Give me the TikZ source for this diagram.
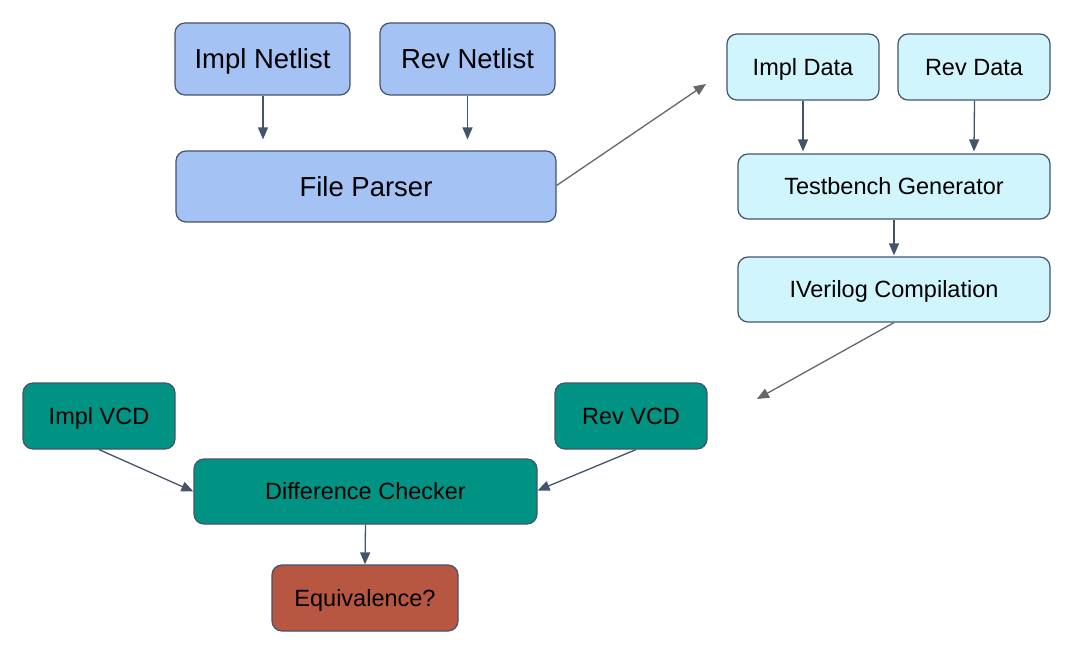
\documentclass[tikz,border=0pt]{standalone}
\usepackage{fontspec}
\setmainfont{Liberation Sans}
\usetikzlibrary{arrows.meta}
\definecolor{bluefill}{HTML}{A4C2F4}
\definecolor{cyanfill}{HTML}{D0F5FD}
\definecolor{tealfill}{HTML}{009383}
\definecolor{redfill}{HTML}{B75641}
\definecolor{edge}{HTML}{44546A}
\definecolor{grayarrow}{HTML}{666666}
\tikzset{
  box/.style={draw=edge, line width=1.2pt, rounded corners=10pt, inner sep=0pt, align=center, text=black, text depth=0pt},
  bigbox/.style={box, fill=bluefill, font=\fontsize{27.5}{32}\selectfont, text height=19.7pt},
  cybox/.style={box, fill=cyanfill, font=\fontsize{23.5}{28}\selectfont, text height=16.8pt},
  tlbox/.style={box, fill=tealfill, font=\fontsize{23.5}{28}\selectfont, text height=16.8pt},
  rdbox/.style={box, fill=redfill, font=\fontsize{23.5}{28}\selectfont, text height=16.8pt},
  conn/.style={draw=edge, line width=1.3pt, -{Triangle[length=12pt,width=10pt]}},
  gconn/.style={draw=grayarrow, line width=1.3pt, -{Triangle[length=12pt,width=10pt]}},
}
\begin{document}
\begin{tikzpicture}[x=1pt,y=-1pt]
\useasboundingbox (0,0) rectangle (1090,660);
\node[bigbox, minimum width=175pt, minimum height=72pt] (in) at (262.5,59) {Impl Netlist};
\node[bigbox, minimum width=175pt, minimum height=72pt] (rn) at (467.5,59) {Rev Netlist};
\node[bigbox, minimum width=380pt, minimum height=71pt] (fp) at (366,186.5) {File Parser};
\node[cybox, minimum width=152pt, minimum height=66pt] (id) at (803,67) {Impl Data};
\node[cybox, minimum width=152pt, minimum height=66pt] (rd) at (974,67) {Rev Data};
\node[cybox, minimum width=312pt, minimum height=65pt] (tg) at (894,186.5) {Testbench Generator};
\node[cybox, minimum width=312pt, minimum height=65pt] (ic) at (894,289.5) {IVerilog Compilation};
\node[tlbox, minimum width=152pt, minimum height=66pt] (iv) at (99,416) {Impl VCD};
\node[tlbox, minimum width=152pt, minimum height=66pt] (rv) at (631,416) {Rev VCD};
\node[tlbox, minimum width=343pt, minimum height=65pt] (dc) at (365.5,491.5) {Difference Checker};
\node[rdbox, minimum width=186pt, minimum height=66pt] (eq) at (365,598) {Equivalence?};
\coordinate (fpend) at (706,84);
\coordinate (icend) at (757,399);
\draw[conn] ([xshift=0.5pt]in.south) -- ([xshift=0.5pt,yshift=11pt]in.south |- fp.north);
\draw[conn] (rn.south) -- ([yshift=11pt]rn.south |- fp.north);
\draw[gconn] ([yshift=1pt]fp.east) -- (fpend);
\draw[conn] (id.south) -- ([yshift=2pt]id.south |- tg.north);
\draw[conn] ([xshift=0.5pt]rd.south) -- ([yshift=2pt]rd.south |- tg.north);
\draw[conn] (tg.south) -- ([yshift=1pt]tg.south |- ic.north);
\draw[gconn] (ic.south) -- (icend);
\draw[conn] (iv.south) -- (dc.west);
\draw[conn] ([xshift=5pt]rv.south) -- ([yshift=1pt]dc.east);
\draw[conn] (dc.south) -- (eq.north);
\end{tikzpicture}
\end{document}
